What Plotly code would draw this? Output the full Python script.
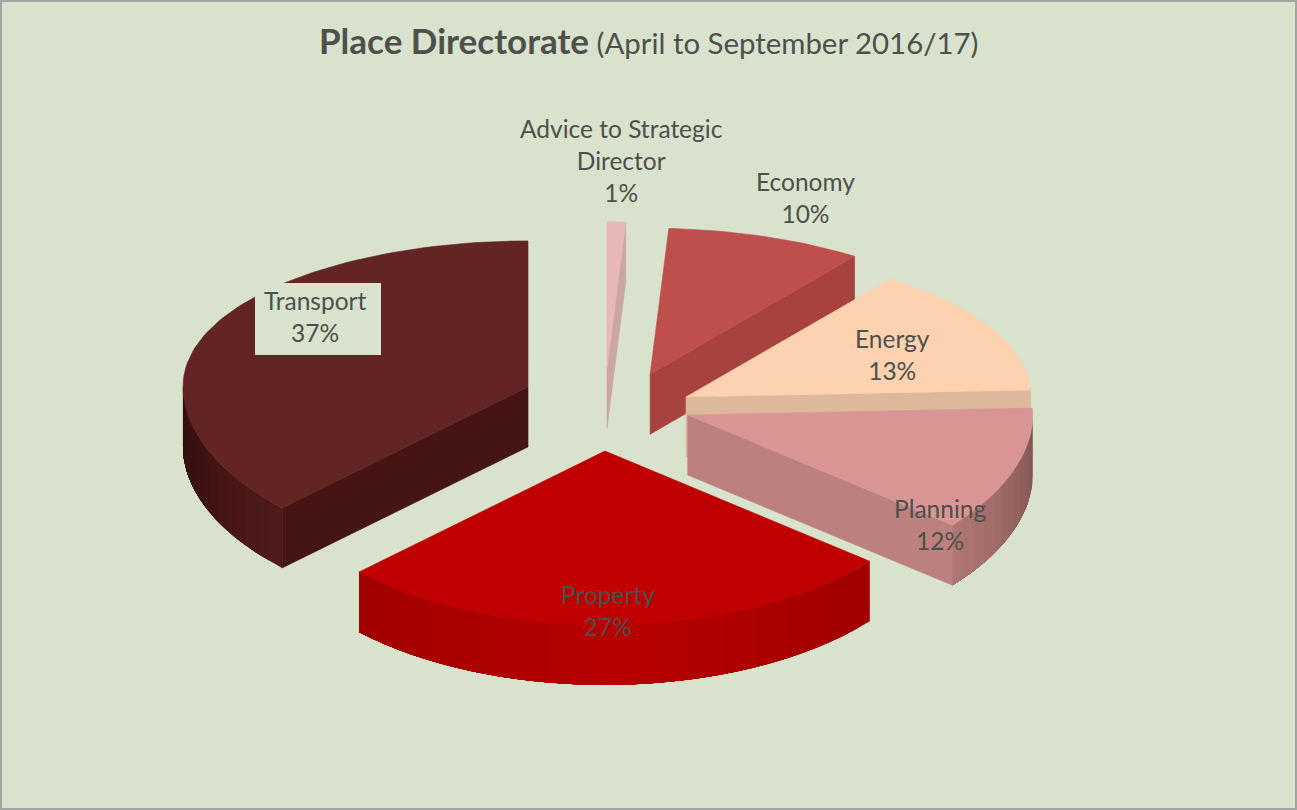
import math
import plotly.graph_objects as go

# ---- data -------------------------------------------------------------
categories = ["Advice to Strategic<br>Director", "Economy", "Energy", "Planning", "Property", "Transport"]
shares = [0.9, 9.5, 13.9, 11.6, 26.9, 37.2]          # slice sizes as drawn
percent_labels = [1, 10, 13, 12, 27, 37]             # percentages as printed

# ---- style ------------------------------------------------------------
top_colors = ["#E6B9B8", "#BE4F4C", "#FCD2B0", "#D99594", "#C00000", "#632424"]
face_colors = ["#CDA5A4", "#A8423F", "#DDB89B", "#BC807E", "#A00000", "#451514"]
side_stops = [
    [(90, "#CDA5A4"), (270, "#CDA5A4")],
    [(90, "#A8423F"), (270, "#A8423F")],
    [(90, "#DDB89B"), (270, "#DDB89B")],
    [(88, "#7A5150"), (128, "#AF7572")],
    [(129, "#A00000"), (178, "#B80000"), (227, "#A00000")],
    [(226, "#501C1B"), (250, "#3E1211"), (270, "#300E0E")],
]
# explosion of each slice as a fraction of the radius (sideways, away from viewer)
explode_side = [0.0, 0.125, 0.229, 0.234, -0.006, -0.229]
explode_back = [0.215, 0.175, 0.032, -0.082, -0.309, 0.095]
draw_order = [0, 1, 5, 2, 3, 4]

BG = "#D8E2CD"
TEXT = "#4D504B"
CX, CY = 607, 402       # pie centre on the page
RX, RY = 345, 158.7     # radii of the tilted disc
PERSP = 0.087           # perspective of the depth axis
PINCH_BACK = 0.04       # horizontal narrowing towards the back
PINCH_FRONT = 0.022     # horizontal narrowing towards the front
BULGE = 0.063           # fullness of the front half
DEPTH = 60              # extrusion

edges = [0.0]
for s in shares:
    edges.append(edges[-1] + 360.0 * s / sum(shares))


def project(theta, r, i):
    t = math.radians(theta)
    wx, wy = r * math.sin(t), r * math.cos(t)
    pinch = PINCH_BACK if wy > 0 else PINCH_FRONT
    x = CX + RX * (explode_side[i] + wx * (1 - pinch * wy * wy))
    dy = RY * wy / (1 + PERSP * wy)
    if wy < 0:
        dy *= 1 + BULGE * (1 - wy * wy)
    return x, CY - RY * explode_back[i] - dy


def mix(stops, theta):
    if theta <= stops[0][0]:
        return stops[0][1]
    for (a, ca), (b, cb) in zip(stops, stops[1:]):
        if theta <= b:
            f = (theta - a) / (b - a)
            pa = [int(ca[k:k + 2], 16) for k in (1, 3, 5)]
            pb = [int(cb[k:k + 2], 16) for k in (1, 3, 5)]
            return "rgb(%d,%d,%d)" % tuple(round(u + (v - u) * f) for u, v in zip(pa, pb))
    return stops[-1][1]


fig = go.Figure()


def poly(pts, color, name, width=0.6):
    xs = [p[0] for p in pts] + [pts[0][0]]
    ys = [p[1] for p in pts] + [pts[0][1]]
    fig.add_trace(go.Scatter(x=xs, y=ys, mode="lines", fill="toself", fillcolor=color,
                             line=dict(color=color, width=width), name=name,
                             hoverinfo="name", showlegend=False))


for i in draw_order:
    a, b = edges[i], edges[i + 1]
    name = categories[i].replace("<br>", " ")
    apex = project(0, 0, i)
    # outer wall: each band runs on to the wall's end, the next band paints over it
    lo, hi = max(a, 90), min(b, 270)
    if hi > lo:
        n = max(2, int((hi - lo) / 3))
        for k in range(n):
            t0 = lo + (hi - lo) * k / n
            ts = [t0 + (hi - t0) * j / 24 for j in range(25)]
            rim = [project(t, 1, i) for t in ts]
            low = [(p[0], p[1] + DEPTH) for p in reversed(rim)]
            poly(rim + low, mix(side_stops[i], t0 + (hi - lo) / (2 * n)), name, width=0)
    # cut faces that look towards the viewer
    for theta, visible in ((a, math.sin(math.radians(a)) < -1e-6),
                           (b, math.sin(math.radians(b)) > 1e-6)):
        if visible:
            rim = project(theta, 1, i)
            poly([apex, rim, (rim[0], rim[1] + DEPTH), (apex[0], apex[1] + DEPTH)],
                 face_colors[i], name)
    # top surface
    n = max(2, int((b - a) / 1.5))
    poly([apex] + [project(a + (b - a) * k / n, 1, i) for k in range(n + 1)], top_colors[i], name)

# ---- labels -----------------------------------------------------------
label_x = [621, 805, 892, 940, 608, 315]
label_y = [160, 197, 354, 524, 610, 316]
for i, cat in enumerate(categories):
    fig.add_annotation(x=label_x[i], y=label_y[i], text=f"{cat}<br>{percent_labels[i]}%",
                       showarrow=False, xref="x", yref="y", align="center",
                       font=dict(family="Lato", size=24.5, color=TEXT))

fig.add_annotation(x=648, y=40, xref="x", yref="y", showarrow=False,
                   text="<b><span style='font-size:35px'>Place Directorate</span></b> (April to September 2016/17)",
                   font=dict(family="Lato", size=29.4, color=TEXT))

# plate behind the Transport label
fig.add_shape(type="rect", x0=255, y0=283, x1=381, y1=355, xref="x", yref="y",
              line=dict(width=0), fillcolor=BG, layer="above")
fig.add_shape(type="rect", x0=1, y0=1, x1=1296, y1=809, xref="x", yref="y",
              line=dict(color="#A3A5A2", width=2), fillcolor="rgba(0,0,0,0)")

fig.update_layout(
    width=1297, height=810, margin=dict(l=0, r=0, t=0, b=0),
    paper_bgcolor=BG, plot_bgcolor=BG, showlegend=False,
    xaxis=dict(range=[0, 1297], visible=False, fixedrange=True),
    yaxis=dict(range=[810, 0], visible=False, fixedrange=True),
)

fig.write_html("out.html", post_script="document.body.style.margin='0';",
               config={"displayModeBar": False})
